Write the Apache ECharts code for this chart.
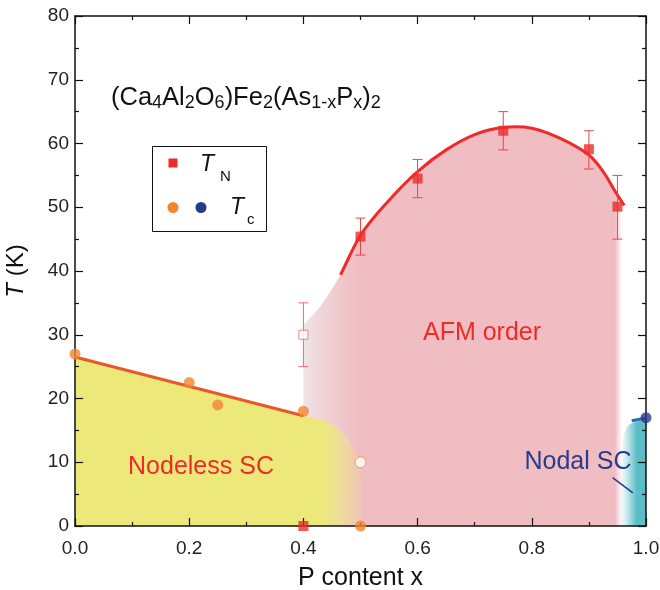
<!DOCTYPE html>
<html><head><meta charset="utf-8">
<script src="https://cdn.jsdelivr.net/npm/echarts@6/dist/echarts.min.js"></script>
<style>html,body{margin:0;padding:0;background:#fff}#c{width:660px;height:590px}</style>
</head><body><div id="c"></div>
<script>
// ---- data ----
const xTickValues = [0, 0.2, 0.4, 0.6, 0.8, 1.0];
const yTickValues = [0, 10, 20, 30, 40, 50, 60, 70, 80];
const tnPoints = [[0.5, 45.4], [0.6, 54.5], [0.75, 62], [0.9, 59.1], [0.95, 50.1]];
const tnErrors = [[0.5, 42.5, 48.3], [0.6, 51.5, 57.5], [0.75, 59, 65], [0.9, 56, 62], [0.95, 45, 55]];
const tnOpen = [[0.4, 30]];
const tnOpenErrors = [[0.4, 25, 35]];
const tnZero = [[0.4, 0]];
const tcNodeless = [[0, 27], [0.2, 22.5], [0.25, 19], [0.4, 18], [0.5, 0]];
const tcOpen = [[0.5, 10]];
const tcNodal = [[1.0, 17]];
const tcNodelessLine = [[0, 26.5], [0.4, 17.3]];
const tcNodalLine = [[0.975, 16.5], [0.998, 16.9]];
const tnFitCurve = [[0.465, 39.4], [0.5, 45.6], [0.55, 51.1], [0.6, 55.6], [0.65, 59.0], [0.7, 61.4], [0.75, 62.5], [0.8, 62.4], [0.85, 60.8], [0.9, 58.2], [0.925, 55.6], [0.95, 51.9], [0.962, 50.3]];
const afmBoundary = [[0.4, 31.5], [0.43, 34.5], [0.465, 39.4], [0.5, 45.6], [0.55, 51.1], [0.6, 55.6], [0.65, 59.0], [0.7, 61.4], [0.75, 62.5], [0.8, 62.4], [0.85, 60.8], [0.9, 58.2], [0.925, 55.6], [0.95, 51.9], [0.958, 50.8]];
const nodelessBoundary = [[0, 26.5], [0.4, 17.3], [0.447, 16.1], [0.476, 13.8], [0.496, 10.3], [0.502, 7], [0.503, 0]];
const nodalBoundary = [[0.954, 0], [0.956, 8], [0.959, 12.9], [0.965, 15.2], [0.977, 16.2], [0.995, 16.6], [1.0, 16.7]];
const nodalLeader = [[0.9415, 7.6], [0.977, 5.2]];

// ---- colours ----
const RED = '#ee2a2a', ORANGE = '#f28532', ORANGE_LINE = '#e8582a', NAVY = '#283a8a';
const PINK = 'rgba(240,190,194,1)', YELLOW = 'rgba(236,232,122,1)', TEAL = 'rgba(91,189,197,1)';
const FONT = '"Liberation Sans", Arial, Helvetica, sans-serif';

const chart = echarts.init(document.getElementById('c'), null, {renderer: 'canvas'});

// smooth path through pixel points, treating the curve as a function of x (monotone in x)
function smoothPath(px, closeToBase) {
  const n = px.length;
  const slope = [];
  for (let i = 0; i < n; i++) {
    const a = px[Math.max(i - 1, 0)], b = px[Math.min(i + 1, n - 1)];
    slope.push((b[1] - a[1]) / (b[0] - a[0]));
  }
  let d = 'M' + px[0][0] + ',' + px[0][1];
  for (let i = 0; i < n - 1; i++) {
    const p1 = px[i], p2 = px[i + 1], h = p2[0] - p1[0];
    const c1 = [p1[0] + h / 3, p1[1] + slope[i] * h / 3];
    const c2 = [p2[0] - h / 3, p2[1] - slope[i + 1] * h / 3];
    d += ' C' + c1[0] + ',' + c1[1] + ' ' + c2[0] + ',' + c2[1] + ' ' + p2[0] + ',' + p2[1];
  }
  if (closeToBase) {
    d += ' L' + px[n - 1][0] + ',' + closeToBase + ' L' + px[0][0] + ',' + closeToBase + ' Z';
  }
  return d;
}

function regionSeries(points, stops, z) {
  return {
    type: 'custom', data: points, clip: true, z: z, silent: true,
    encode: {x: 0, y: 1},
    renderItem: function (params, api) {
      if (params.dataIndex !== 0) return null;
      const px = points.map(p => api.coord(p));
      const base = api.coord([points[0][0], 0])[1];
      const x0 = px[0][0], x1 = px[px.length - 1][0];
      return {type: 'path', shape: {pathData: smoothPath(px, base)},
        style: {fill: new echarts.graphic.LinearGradient(x0, 0, x1, 0, stops, true), stroke: null}};
    }
  };
}

function curveSeries(points, color, width, z) {
  return {
    type: 'custom', data: points, clip: false, z: z, silent: true,
    encode: {x: 0, y: 1},
    renderItem: function (params, api) {
      if (params.dataIndex !== 0) return null;
      const px = points.map(p => api.coord(p));
      return {type: 'path', shape: {pathData: smoothPath(px, null)},
        style: {fill: null, stroke: color, lineWidth: width}};
    }
  };
}

function errorBarSeries(data, color) {
  return {
    type: 'custom', data: data, clip: false, z: 6, silent: true,
    encode: {x: 0, y: [1, 2]},
    renderItem: function (params, api) {
      const x = api.value(0);
      const lo = api.coord([x, api.value(1)]);
      const hi = api.coord([x, api.value(2)]);
      const w = 5;
      const st = {stroke: color, lineWidth: 1};
      return {type: 'group', children: [
        {type: 'line', shape: {x1: lo[0], y1: lo[1], x2: hi[0], y2: hi[1]}, style: st},
        {type: 'line', shape: {x1: lo[0] - w, y1: lo[1], x2: lo[0] + w, y2: lo[1]}, style: st},
        {type: 'line', shape: {x1: hi[0] - w, y1: hi[1], x2: hi[0] + w, y2: hi[1]}, style: st}
      ]};
    }
  };
}

const axisCommon = {
  type: 'value',
  axisLine: {show: true, onZero: false, lineStyle: {color: '#111', width: 1.5}},
  axisTick: {show: true, inside: true, length: 8, lineStyle: {color: '#111', width: 1.2}},
  minorTick: {show: true, splitNumber: 2, length: 4, lineStyle: {color: '#111', width: 1.2}},
  splitLine: {show: false},
  z: 3
};

const option = {
  animation: false,
  backgroundColor: '#fff',
  grid: {left: 75, right: 14, top: 16, bottom: 64, containLabel: false, outerBoundsMode: 'none'},
  xAxis: [
    Object.assign({}, axisCommon, {
      min: 0, max: 1, interval: 0.2, position: 'bottom',
      axisLabel: {show: true, margin: 13, fontSize: 19, color: '#222', fontFamily: FONT,
        formatter: v => (xTickValues.some(t => Math.abs(t - v) < 1e-9) ? v.toFixed(1) : '')},
      name: 'P content x', nameLocation: 'middle', nameGap: 40,
      nameTextStyle: {fontSize: 25, color: '#111', fontFamily: FONT}
    }),
    Object.assign({}, axisCommon, {
      min: 0, max: 1, interval: 0.2, position: 'top', axisLabel: {show: false}
    })
  ],
  yAxis: [
    Object.assign({}, axisCommon, {
      min: 0, max: 80, interval: 10, position: 'left',
      axisLabel: {show: true, margin: 6, fontSize: 19, color: '#222', fontFamily: FONT,
        formatter: v => (yTickValues.indexOf(v) >= 0 ? String(v) : '')},
      name: '{it|T} (K)', nameLocation: 'middle', nameGap: 47, nameRotate: 90,
      nameTextStyle: {fontSize: 24, color: '#111', fontFamily: FONT,
        rich: {it: {fontStyle: 'italic', fontSize: 24, fontFamily: FONT, color: '#111'}}}
    }),
    Object.assign({}, axisCommon, {
      min: 0, max: 80, interval: 10, position: 'right', axisLabel: {show: false}
    })
  ],
  series: [
    // AFM region
    regionSeries(afmBoundary, [
      {offset: 0, color: 'rgba(238,228,231,1)'},
      {offset: 0.05, color: 'rgba(240,214,218,1)'},
      {offset: 0.17, color: PINK},
      {offset: 0.978, color: PINK},
      {offset: 1, color: 'rgba(240,190,194,0)'}
    ], 1),
    // Nodeless SC region
    regionSeries(nodelessBoundary, [
      {offset: 0, color: YELLOW},
      {offset: 0.86, color: YELLOW},
      {offset: 1, color: 'rgba(236,232,122,0.15)'}
    ], 1.1),
    // Nodal SC region
    regionSeries(nodalBoundary, [
      {offset: 0, color: 'rgba(91,189,197,0)'},
      {offset: 0.25, color: 'rgba(91,189,197,0.3)'},
      {offset: 0.65, color: TEAL},
      {offset: 1, color: TEAL}
    ], 1.2),
    // Lines
    curveSeries(tnFitCurve, RED, 3, 4),
    {type: 'line', data: tcNodelessLine, symbol: 'none', z: 4, silent: true,
      lineStyle: {color: ORANGE_LINE, width: 3}},
    {type: 'line', data: tcNodalLine, symbol: 'none', z: 4, silent: true,
      lineStyle: {color: '#2b6cb0', width: 3}},
    {type: 'line', data: nodalLeader, symbol: 'none', z: 4, silent: true,
      lineStyle: {color: NAVY, width: 1.5}},
    // error bars
    errorBarSeries(tnErrors, '#e8474a'),
    errorBarSeries(tnOpenErrors, '#ee6a6c'),
    // markers
    {type: 'scatter', data: tnPoints, symbol: 'rect', symbolSize: 10, z: 7, clip: false,
      itemStyle: {color: RED}},
    {type: 'scatter', data: tnZero, symbol: 'rect', symbolSize: 10, z: 7, clip: false,
      itemStyle: {color: RED}},
    {type: 'scatter', data: tnOpen, symbol: 'rect', symbolSize: 9, z: 7, clip: false,
      itemStyle: {color: '#fff', borderColor: '#ee6a6c', borderWidth: 1}},
    {type: 'scatter', data: tcNodeless, symbol: 'circle', symbolSize: 11, z: 7, clip: false,
      itemStyle: {color: ORANGE}},
    {type: 'scatter', data: tcOpen, symbol: 'circle', symbolSize: 11, z: 7, clip: false,
      itemStyle: {color: '#fff', borderColor: ORANGE, borderWidth: 1}},
    {type: 'scatter', data: tcNodal, symbol: 'circle', symbolSize: 11, z: 7, clip: false,
      itemStyle: {color: NAVY}}
  ],
  graphic: [
    {type: 'text', left: 111, top: 84, z: 10, style: {
      text: '(Ca{s|4}Al{s|2}O{s|6})Fe{s|2}(As{s|1-x}P{s|x}){s|2}',
      font: '25.5px ' + FONT, fill: '#111',
      rich: {s: {fontSize: 18, fontFamily: FONT, fill: '#111', padding: [10, 0, 0, 0], lineHeight: 19}}
    }},
    {type: 'text', style: {text: 'AFM order', x: 482, y: 333, align: 'center', verticalAlign: 'middle',
      font: '25px ' + FONT, fill: RED}, z: 10},
    {type: 'text', style: {text: 'Nodeless SC', x: 201, y: 467, align: 'center', verticalAlign: 'middle',
      font: '25px ' + FONT, fill: RED}, z: 10},
    {type: 'text', style: {text: 'Nodal SC', x: 578, y: 462, align: 'center', verticalAlign: 'middle',
      font: '25px ' + FONT, fill: NAVY}, z: 10},
    // legend box
    {type: 'rect', shape: {x: 152.5, y: 146.5, width: 114, height: 85}, z: 10,
      style: {fill: '#fff', stroke: '#111', lineWidth: 1}},
    {type: 'rect', shape: {x: 168.5, y: 158.5, width: 9, height: 9}, z: 11, style: {fill: RED}},
    {type: 'circle', shape: {cx: 173, cy: 207.5, r: 5.5}, z: 11, style: {fill: ORANGE}},
    {type: 'circle', shape: {cx: 201, cy: 207.5, r: 5.5}, z: 11, style: {fill: NAVY}},
    {type: 'text', z: 11, style: {text: 'T', x: 200, y: 165, verticalAlign: 'middle',
      font: 'italic 23px ' + FONT, fill: '#111'}},
    {type: 'text', z: 11, style: {text: 'N', x: 220, y: 177, verticalAlign: 'middle',
      font: '15px ' + FONT, fill: '#111'}},
    {type: 'text', z: 11, style: {text: 'T', x: 230, y: 208, verticalAlign: 'middle',
      font: 'italic 23px ' + FONT, fill: '#111'}},
    {type: 'text', z: 11, style: {text: 'c', x: 247, y: 220, verticalAlign: 'middle',
      font: '15px ' + FONT, fill: '#111'}}
  ]
};
chart.setOption(option);
</script>
</body></html>
